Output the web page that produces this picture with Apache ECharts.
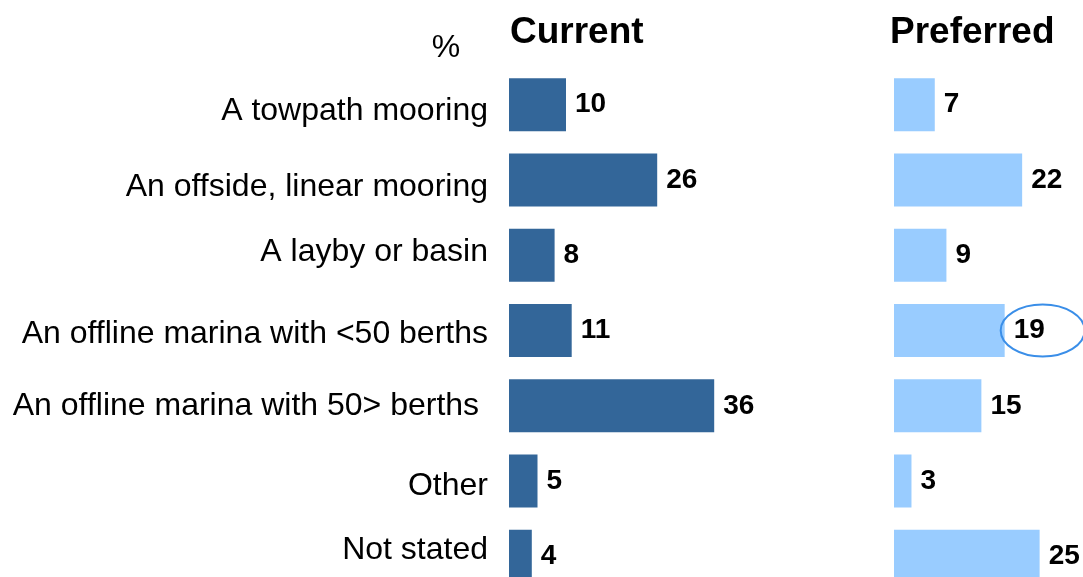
<!DOCTYPE html>
<html>
<head>
<meta charset="utf-8">
<script src="https://cdn.jsdelivr.net/npm/echarts@6/dist/echarts.min.js"></script>
<style>
  html, body { margin: 0; padding: 0; background: #fff; overflow: hidden; }
  /* canvas is larger than the window so the last row and the right panel run off the edge */
  #chart { width: 1160px; height: 610px; }
</style>
</head>
<body>
<div id="chart"></div>
<script>
// Mooring types, current vs preferred (%)
const categories = [
  'A towpath mooring',
  'An offside, linear mooring',
  'A layby or basin',
  'An offline marina with <50 berths',
  'An offline marina with 50> berths ',
  'Other',
  'Not stated'
];
const currentValues = [10, 26, 8, 11, 36, 5, 4];
const preferredValues = [7, 22, 9, 19, 15, 3, 25];
const panelTitles = ['Current', 'Preferred'];
const unitLabel = '%';
const highlightIndex = 3; // preferred value circled on the chart

// vertical nudge (px) of each row label relative to its bar centre
const labelNudge = [7, 7, -3, 3.5, 0, 5, -6.5];

const FONT = '"Liberation Sans", Arial, sans-serif';

const chart = echarts.init(document.getElementById('chart'), null, { renderer: 'canvas' });

const valueLabel = {
  show: true,
  position: 'right',
  distance: 9,
  color: '#000',
  fontFamily: FONT,
  fontWeight: 'bold',
  fontSize: 28
};

const titleGraphics = [
  {
    id: 'titleCurrent', type: 'text', x: 510, y: 33,
    style: { text: panelTitles[0], fontFamily: FONT, fontWeight: 'bold', fontSize: 37, fill: '#000', verticalAlign: 'middle', align: 'left' }
  },
  {
    id: 'titlePreferred', type: 'text', x: 890, y: 33,
    style: { text: panelTitles[1], fontFamily: FONT, fontWeight: 'bold', fontSize: 37, fill: '#000', verticalAlign: 'middle', align: 'left' }
  },
  {
    id: 'unit', type: 'text', x: 446, y: 48,
    style: { text: unitLabel, fontFamily: FONT, fontSize: 32, fill: '#000', verticalAlign: 'middle', align: 'center' }
  }
];

const option = {
  animation: false,
  backgroundColor: '#fff',
  grid: [
    { left: 509, top: 67, width: 228, height: 527, containLabel: false },
    { left: 894, top: 67, width: 233, height: 527, containLabel: false }
  ],
  xAxis: [
    { gridIndex: 0, type: 'value', min: 0, max: 40, show: false },
    { gridIndex: 1, type: 'value', min: 0, max: 40, show: false }
  ],
  yAxis: [
    {
      gridIndex: 0, type: 'category', data: categories, inverse: true,
      axisLine: { show: false }, axisTick: { show: false }, splitLine: { show: false },
      axisLabel: { show: false }
    },
    {
      gridIndex: 1, type: 'category', data: categories, inverse: true,
      axisLine: { show: false }, axisTick: { show: false }, splitLine: { show: false },
      axisLabel: { show: false }
    }
  ],
  series: [
    {
      name: panelTitles[0], type: 'bar', xAxisIndex: 0, yAxisIndex: 0,
      data: currentValues, barWidth: 53,
      itemStyle: { color: '#336699' },
      label: valueLabel
    },
    {
      name: panelTitles[1], type: 'bar', xAxisIndex: 1, yAxisIndex: 1,
      data: preferredValues, barWidth: 53,
      itemStyle: { color: '#99ccff' },
      label: valueLabel
    }
  ],
  graphic: titleGraphics
};

chart.setOption(option);

// Row labels, placed against the category axis rows
const rowLabels = categories.map((name, i) => {
  const y = chart.convertToPixel({ yAxisIndex: 0 }, i);
  return {
    id: 'row' + i, type: 'text', x: 488, y: y + labelNudge[i],
    style: { text: name, fontFamily: FONT, fontSize: 32, fill: '#000', verticalAlign: 'middle', align: 'right' }
  };
});

// Outline the highlighted preferred value with an ellipse around its label
const barEnd = chart.convertToPixel({ xAxisIndex: 1, yAxisIndex: 1 }, [preferredValues[highlightIndex], highlightIndex]);
chart.setOption({
  graphic: titleGraphics.concat(rowLabels, [
    {
      id: 'highlight', type: 'ellipse',
      shape: { cx: barEnd[0] + 38, cy: barEnd[1], rx: 42, ry: 26 },
      style: { fill: 'none', stroke: '#3a8ee8', lineWidth: 2 },
      z: 10
    }
  ])
});
</script>
</body>
</html>
